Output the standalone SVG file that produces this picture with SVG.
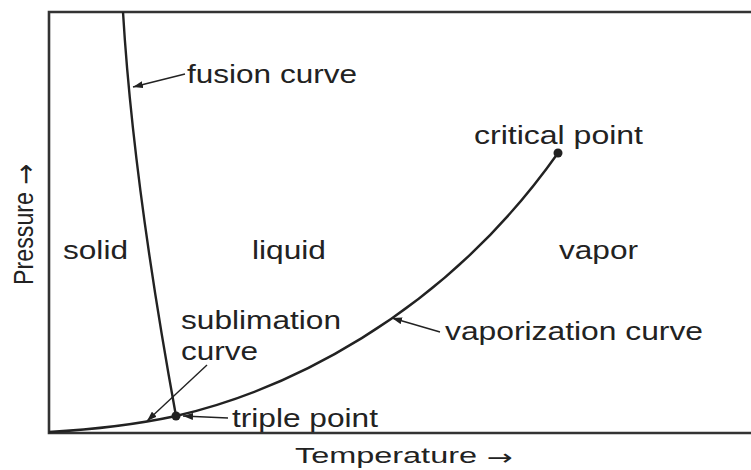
<svg xmlns="http://www.w3.org/2000/svg" width="751" height="470" viewBox="0 0 751 470">
<style>
.lbl{font-family:"Liberation Sans",Arial,sans-serif;font-size:26px;fill:#222}
.ax{font-family:"Liberation Sans",Arial,sans-serif;font-size:22px;fill:#222}
.arr{font-family:"DejaVu Sans",sans-serif;font-size:22px;fill:#222}
.frame{fill:none;stroke:#333;stroke-width:2.6}
.curve{fill:none;stroke:#222;stroke-width:2.4}
.lead{fill:none;stroke:#222;stroke-width:1.4}
</style>
<defs>
<marker id="ah" markerUnits="userSpaceOnUse" markerWidth="10" markerHeight="7" refX="10" refY="3.5" orient="auto">
<path d="M0,0 L10,3.5 L0,7 z" fill="#222"/>
</marker>
</defs>
<g id="axes">
<path class="frame" d="M751,12 H49 V433 H751"/>
<text class="ax" x="295" y="463" textLength="182" lengthAdjust="spacingAndGlyphs">Temperature</text>
<text class="arr" x="487" y="465" textLength="26" lengthAdjust="spacingAndGlyphs">→</text>
<text class="ax" transform="translate(33,285) scale(1.25,1) rotate(-90)" x="0" y="0" textLength="93" lengthAdjust="spacingAndGlyphs">Pressure</text>
<text class="arr" transform="translate(35,185) scale(1.25,1) rotate(-90)" x="0" y="0" textLength="21" lengthAdjust="spacingAndGlyphs">→</text>
</g>
<g id="curves">
<path id="fusion-curve" class="curve" d="M123,12 Q133,180 176,416"/>
<path id="vapor-curve" class="curve" d="M49,432 Q120,428 176,416 C280,392 440,320 558,153"/>
</g>
<g id="triple-point"><circle cx="176" cy="416" r="4.5" fill="#222"/></g>
<g id="critical-point"><circle cx="558" cy="153" r="4.5" fill="#222"/>
<text class="lbl" x="474" y="144" textLength="169" lengthAdjust="spacingAndGlyphs">critical point</text></g>
<g id="regions">
<text class="lbl" x="63" y="259" textLength="65" lengthAdjust="spacingAndGlyphs">solid</text>
<text class="lbl" x="252" y="259" textLength="74" lengthAdjust="spacingAndGlyphs">liquid</text>
<text class="lbl" x="559" y="259" textLength="79" lengthAdjust="spacingAndGlyphs">vapor</text>
</g>
<g id="labels">
<text class="lbl" x="187" y="83" textLength="170" lengthAdjust="spacingAndGlyphs">fusion curve</text>
<text class="lbl" x="181" y="329" textLength="160" lengthAdjust="spacingAndGlyphs">sublimation</text>
<text class="lbl" x="181" y="360" textLength="77" lengthAdjust="spacingAndGlyphs">curve</text>
<text class="lbl" x="232" y="427" textLength="146" lengthAdjust="spacingAndGlyphs">triple point</text>
<text class="lbl" x="445" y="340" textLength="258" lengthAdjust="spacingAndGlyphs">vaporization curve</text>
</g>
<g id="connectors">
<path class="lead" d="M185,74 L133,87" marker-end="url(#ah)"/>
<path class="lead" d="M207,365 L147,421" marker-end="url(#ah)"/>
<path class="lead" d="M228,418 L183,416" marker-end="url(#ah)"/>
<path class="lead" d="M440,332 L392,318" marker-end="url(#ah)"/>
</g>
</svg>
